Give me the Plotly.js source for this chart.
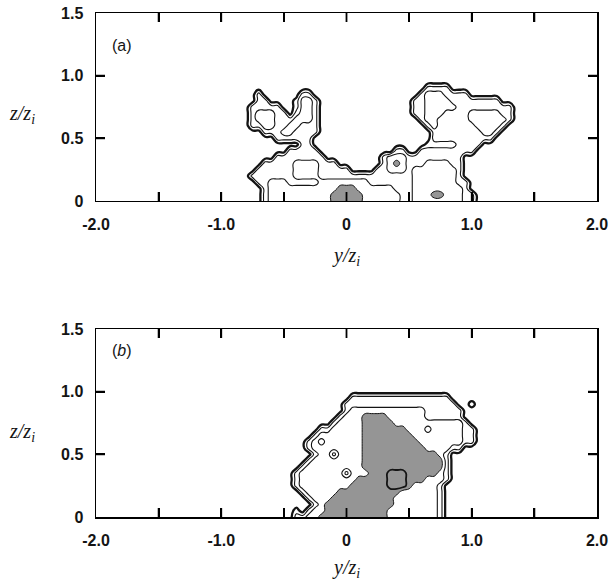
<!DOCTYPE html>
<html>
<head>
<meta charset="utf-8">
<script src="https://cdn.plot.ly/plotly-3.0.1.min.js"></script>
<style>
  html, body { margin: 0; padding: 0; background: #ffffff; }
  #chart { width: 613px; height: 582px; }
</style>
</head>
<body>
<div id="chart"></div>
<script>
// Horizontal sample positions y/zi of the concentration grid
const gridY = [-0.90,-0.85,-0.80,-0.75,-0.70,-0.65,-0.60,-0.55,-0.50,-0.45,
               -0.40,-0.35,-0.30,-0.25,-0.20,-0.15,-0.10,-0.05,0.00,0.05,
               0.10,0.15,0.20,0.25,0.30,0.35,0.40,0.45,0.50,0.55,
               0.60,0.65,0.70,0.75,0.80,0.85,0.90,0.95,1.00,1.05,
               1.10,1.15,1.20,1.25,1.30,1.35,1.40,1.45,1.50];

// Vertical sample positions z/zi, one per grid row (top row first)
const gridZ = [1.05,1.00,0.95,0.90,0.85,0.80,0.75,0.70,0.65,0.60,0.55,
               0.50,0.45,0.40,0.35,0.30,0.25,0.20,0.15,0.10,0.05,0.00];

// Concentration class at each grid node, panel (a); one string per row, one digit per y/zi column
const levelsA = [
  "0000000000" + "0000000000" + "0000000000" + "0000000000" + "000000000",
  "0000000000" + "0000000000" + "0000000000" + "0000000000" + "000000000",
  "0000000000" + "0000000000" + "0000000000" + "0000000000" + "000000000",
  "0000000000" + "0000000000" + "0000000000" + "0222200000" + "000000000",
  "0000200000" + "0220000000" + "0000000000" + "2333222200" + "000000000",
  "0000220000" + "1332000000" + "0000000002" + "2333322222" + "222000000",
  "0002222200" + "1332000000" + "0000000002" + "2333332222" + "222220000",
  "0002333220" + "2332000000" + "0000000002" + "2333222233" + "333220000",
  "0002333222" + "3332000000" + "0000000000" + "2332222233" + "333320000",
  "0002233223" + "3222000000" + "0000000000" + "0232222223" + "333200000",
  "0000022233" + "2222000000" + "0000000000" + "0022222222" + "332000000",
  "0000000222" + "2220000000" + "0000000000" + "0022222222" + "220000000",
  "0000000000" + "0220000000" + "0000000000" + "0111112222" + "000000000",
  "0000000002" + "2222000000" + "0000002200" + "2222222220" + "000000000",
  "0000000222" + "2222200000" + "0000233322" + "2222222000" + "000000000",
  "0000022222" + "3333222000" + "0000234322" + "2333322000" + "000000000",
  "0000222222" + "3333222220" + "0002233323" + "3333332000" + "000000000",
  "0002222222" + "3333222222" + "2222222223" + "3333332000" + "000000000",
  "0000223332" + "2222333333" + "3322222223" + "3333332200" + "000000000",
  "0000023333" + "3333333444" + "3333332223" + "3333333200" + "000000000",
  "0000023333" + "3333334444" + "4333333223" + "3344333220" + "000000000",
  "0000023333" + "3333334444" + "4333333223" + "3333333220" + "000000000"
];

// Concentration class at each grid node, panel (b)
const levelsB = [
  "0000000000" + "0000000000" + "0000000000" + "0000000000" + "000000000",
  "0000000000" + "0000000000" + "0000000000" + "0000000000" + "000000000",
  "0000000000" + "0000000002" + "2222222222" + "2222200000" + "000000000",
  "0000000000" + "0000000022" + "2222222222" + "2222220010" + "000000000",
  "0000000000" + "0000000023" + "3333333333" + "3222222000" + "000000000",
  "0000000000" + "0000000233" + "3444433333" + "3222222000" + "000000000",
  "0000000000" + "0000002333" + "3444443333" + "3333333200" + "000000000",
  "0000000000" + "0000223333" + "3444444433" + "3233333220" + "000000000",
  "0000000000" + "0002333333" + "3444444443" + "3333333220" + "000000000",
  "0000000000" + "0023233333" + "3444444444" + "3333333220" + "000000000",
  "0000000000" + "0023333333" + "3444444444" + "4333322000" + "000000000",
  "0000000000" + "0002331333" + "3444444444" + "4443200000" + "000000000",
  "0000000000" + "0023333333" + "3444444444" + "4444200000" + "000000000",
  "0000000000" + "0233333333" + "3444444444" + "4444200000" + "000000000",
  "0000000000" + "2333333313" + "3344455544" + "4443200000" + "000000000",
  "0000000000" + "2333333333" + "4444455544" + "4333200000" + "000000000",
  "0000000000" + "2333333334" + "4444455543" + "3332000000" + "000000000",
  "0000000000" + "0233333444" + "4444444333" + "3332000000" + "000000000",
  "0000000000" + "0023334444" + "4444443333" + "3332000000" + "000000000",
  "0000000000" + "0002344444" + "4444443333" + "3332000000" + "000000000",
  "0000000000" + "1023344444" + "4444433333" + "3332000000" + "000000000",
  "0000000000" + "2233444444" + "4444433333" + "3332000000" + "000000000"
];

// Contour thresholds: outer (heavy), inner lines, shaded core, core ring
const outerLevel = 0.5;
const innerLevels = [1.5, 2.5];
const shadeLevel = 3.5;
const ringLevel = 4.5;

// Axis ticks: every 0.5 along y/zi, labels on whole units only
const xTickVals = [-2, -1.5, -1, -0.5, 0, 0.5, 1, 1.5, 2];
const xTickText = ["-2.0", "", "-1.0", "", "0", "", "1.0", "", "2.0"];
const zTickVals = [0, 0.5, 1, 1.5];
const zTickText = ["0", "0.5", "1.0", "1.5"];

const INK = "#141414";
const SHADE = "#959595";

function panelTraces(rows, xa, ya) {
  const zGrid = rows.map(r => Array.from(r, Number)).reverse();
  const zPos = gridZ.slice().reverse();
  const base = {
    type: "contour", x: gridY, y: zPos, z: zGrid,
    xaxis: xa, yaxis: ya, showscale: false, showlegend: false, hoverinfo: "skip"
  };
  const lineAt = (lev, w) => Object.assign({}, base, {
    autocontour: false,
    contours: { coloring: "none", start: lev, end: lev + 0.1, size: 1, showlines: true },
    line: { color: INK, width: w, smoothing: 1.3 }
  });
  const traces = [];
  // constraint shading marks the side that fails the test, so "<" shades the core above the threshold
  traces.push(Object.assign({}, base, {
    contours: { type: "constraint", operation: "<", value: shadeLevel },
    fillcolor: SHADE,
    line: { color: INK, width: 1, smoothing: 1.3 }
  }));
  traces.push(lineAt(outerLevel, 2.3));
  innerLevels.forEach(l => traces.push(lineAt(l, 1.1)));
  traces.push(lineAt(ringLevel, 1.8));
  return traces;
}

const data = panelTraces(levelsA, "x", "y").concat(panelTraces(levelsB, "x2", "y2"));

// Inward tick marks on all four sides of a panel, placed at the tick values
const TICK_PX = 9, PANEL_W = 501, PANEL_H = 188;
function tickMarks(xa, ya) {
  const st = { color: "#000000", width: 1.8 };
  const h = TICK_PX / PANEL_H, w = TICK_PX / PANEL_W;
  const out = [];
  xTickVals.filter(v => v > -2 && v < 2).forEach(v => {
    out.push({ type: "line", xref: xa, yref: ya + " domain", x0: v, x1: v, y0: 0, y1: h, line: st });
    out.push({ type: "line", xref: xa, yref: ya + " domain", x0: v, x1: v, y0: 1, y1: 1 - h, line: st });
  });
  zTickVals.filter(v => v > 0 && v < 1.5).forEach(v => {
    out.push({ type: "line", xref: xa + " domain", yref: ya, x0: 0, x1: w, y0: v, y1: v, line: st });
    out.push({ type: "line", xref: xa + " domain", yref: ya, x0: 1, x1: 1 - w, y0: v, y1: v, line: st });
  });
  return out;
}

const tickFont = { family: "Liberation Sans, Arial, sans-serif", size: 16, color: INK, weight: "bold" };
const axisBase = {
  showline: true, linecolor: "#000000", linewidth: 1.5, mirror: "ticks",
  ticks: "inside", ticklen: 9, tickwidth: 1.8, tickcolor: "#000000",
  showgrid: false, zeroline: false, tickfont: tickFont, fixedrange: true
};
const xAxis = (anchor) => Object.assign({}, axisBase, {
  range: [-2, 2], tickmode: "array", tickvals: xTickVals, ticktext: xTickText,
  anchor: anchor, domain: [0, 1], ticklabelstandoff: 8
});
const zAxis = (anchor, dom) => Object.assign({}, axisBase, {
  range: [0, 1.5], tickmode: "array", tickvals: zTickVals, ticktext: zTickText,
  anchor: anchor, domain: dom, ticklabelstandoff: 8
});

const titleFont = { family: "Liberation Serif, Times New Roman, serif", size: 20, color: INK };
const panelFont = { family: "Liberation Sans, Arial, sans-serif", size: 16, color: INK };

const layout = {
  width: 613, height: 582,
  margin: { l: 96, r: 16, t: 13, b: 65 },
  paper_bgcolor: "#ffffff", plot_bgcolor: "#ffffff",
  showlegend: false,
  xaxis: xAxis("y"),
  yaxis: zAxis("x", [0.627, 1]),
  xaxis2: xAxis("y2"),
  yaxis2: zAxis("x2", [0, 0.373]),
  shapes: tickMarks("x", "y").concat(tickMarks("x2", "y2")),
  annotations: [
    { text: "<i>z/z<sub>i</sub></i>", xref: "paper", yref: "paper", x: -0.148, y: 0.798,
      xanchor: "center", yanchor: "middle", showarrow: false, font: titleFont },
    { text: "<i>z/z<sub>i</sub></i>", xref: "paper", yref: "paper", x: -0.148, y: 0.167,
      xanchor: "center", yanchor: "middle", showarrow: false, font: titleFont },
    { text: "<i>y/z<sub>i</sub></i>", xref: "paper", yref: "paper", x: 0.499, y: 0.516,
      xanchor: "center", yanchor: "middle", showarrow: false, font: titleFont },
    { text: "<i>y/z<sub>i</sub></i>", xref: "paper", yref: "paper", x: 0.499, y: -0.103,
      xanchor: "center", yanchor: "middle", showarrow: false, font: titleFont },
    { text: "(a)", xref: "paper", yref: "paper", x: 0.028, y: 0.9365,
      xanchor: "left", yanchor: "middle", showarrow: false, font: panelFont },
    { text: "(<i>b</i>)", xref: "paper", yref: "paper", x: 0.028, y: 0.331,
      xanchor: "left", yanchor: "middle", showarrow: false, font: panelFont }
  ]
};

Plotly.newPlot("chart", data, layout, { staticPlot: true, displayModeBar: false });
</script>
</body>
</html>
